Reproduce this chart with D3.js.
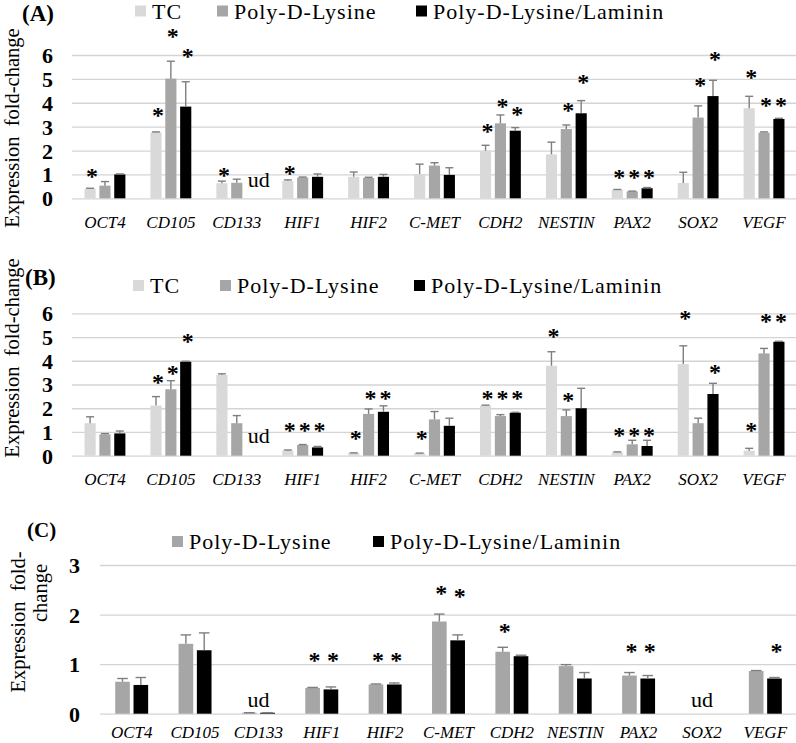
<!DOCTYPE html>
<html><head><meta charset="utf-8">
<script src="https://cdn.jsdelivr.net/npm/d3@7"></script>
<style>
body{margin:0;background:#fff}svg{display:block}
text{font-family:'Liberation Serif','Times New Roman',Times,serif}
</style>
</head><body>
<svg id="chart" width="796" height="743"></svg>
<script>
// ---------------- data ----------------
const categories = ["OCT4","CD105","CD133","HIF1","HIF2","C-MET","CDH2","NESTIN","PAX2","SOX2","VEGF"];
const seriesAB = ["TC","Poly-D-Lysine","Poly-D-Lysine/Laminin"];
const seriesC = ["Poly-D-Lysine","Poly-D-Lysine/Laminin"];

// Panel A
const aTC      = [0.40,2.76,0.63,0.72,0.90,1.02,1.99,1.84,0.35,0.64,3.77];
const aTCErr   = [0.02,0.02,0.09,0.05,0.20,0.41,0.23,0.51,0.02,0.45,0.50];
const aPDL     = [0.53,5.01,0.65,0.87,0.85,1.37,3.14,2.90,0.29,3.38,2.75];
const aPDLErr  = [0.17,0.73,0.15,0.02,0.03,0.12,0.35,0.17,0.01,0.49,0.03];
const aPDLL    = [1.00,3.84,null,0.90,0.90,0.98,2.83,3.56,0.42,4.28,3.32];
const aPDLLErr = [0.02,1.04,null,0.12,0.10,0.30,0.13,0.53,0.03,0.66,0.03];
// stars: [category, series index, level]
const aStars = [["OCT4",0,1.05],["CD105",0,3.63],["CD105",1,6.91],["CD105",2,6.08],["CD133",0,1.10],
  ["HIF1",0,1.18],["CDH2",0,2.93],["CDH2",1,3.98],["CDH2",2,3.66],["NESTIN",1,3.81],["NESTIN",2,5.0],
  ["PAX2",0,1.02],["PAX2",1,1.02],["PAX2",2,1.02],["SOX2",1,4.88],["SOX2",2,5.97],
  ["VEGF",0,5.21],["VEGF",1,4.05],["VEGF",2,4.05]];
const aUd = [["CD133",2]];

// Panel B
const bTC      = [1.37,2.11,3.40,0.21,0.11,0.10,2.11,3.79,0.14,3.86,0.21];
const bTCErr   = [0.27,0.38,0.05,0.03,0.01,0.01,0.02,0.59,0.02,0.77,0.10];
const bPDL     = [0.90,2.80,1.37,0.45,1.76,1.53,1.67,1.67,0.48,1.37,4.31];
const bPDLErr  = [0.03,0.36,0.32,0.02,0.21,0.33,0.06,0.26,0.17,0.21,0.21];
const bPDLL    = [0.94,3.96,null,0.35,1.85,1.26,1.81,2.00,0.41,2.60,4.80];
const bPDLLErr = [0.10,0.02,null,0.04,0.25,0.32,0.02,0.84,0.24,0.45,0.02];
const bStars = [["CD105",0,3.23],["CD105",1,3.61],["CD105",2,4.95],["HIF1",0,1.22],["HIF1",1,1.22],["HIF1",2,1.22],
  ["HIF2",0,0.87],["HIF2",1,2.56],["HIF2",2,2.56],["C-MET",0,0.87],["CDH2",0,2.56],["CDH2",1,2.56],["CDH2",2,2.56],
  ["NESTIN",0,5.16],["NESTIN",1,2.49],["PAX2",0,1.01],["PAX2",1,1.01],["PAX2",2,1.01],
  ["SOX2",0,5.93],["SOX2",2,3.65],["VEGF",0,1.22],["VEGF",1,5.79],["VEGF",2,5.79]];
const bUd = [["CD133",2]];

// Panel C
const cPDL     = [0.645,1.41,0.02,0.52,0.59,1.86,1.25,0.96,0.77,null,0.86];
const cPDLErr  = [0.065,0.18,0.0,0.01,0.01,0.15,0.09,0.03,0.06,null,0.01];
const cPDLL    = [0.58,1.28,0.02,0.49,0.59,1.48,1.16,0.71,0.71,null,0.71];
const cPDLLErr = [0.15,0.35,0.0,0.05,0.03,0.11,0.02,0.12,0.06,null,0.02];
const cStars = [["HIF1",0,1.15],["HIF1",1,1.15],["HIF2",0,1.15],["HIF2",1,1.15],["C-MET",0,2.49],["C-MET",1,2.43],
  ["CDH2",0,1.72],["PAX2",0,1.32],["PAX2",1,1.32],["VEGF",1,1.32]];
const cUd = [["CD133",-1],["SOX2",-1]];

// ---------------- drawing ----------------
const colorsAB = ["#d9d9d9","#a6a6a6","#000000"];
const colorsC = ["#a6a6a6","#000000"];
const svg = d3.select("#chart");

function drawPanel(cfg){
  const g = svg.append("g");
  const x0 = d3.scaleBand().domain(categories).range([cfg.left, cfg.right])
    .paddingInner(cfg.padIn).paddingOuter(cfg.padOut);
  const x1 = d3.scaleBand().domain(d3.range(cfg.series.length)).range([0, x0.bandwidth()])
    .paddingInner(cfg.barPad);
  const y = d3.scaleLinear().domain([0, cfg.ymax]).range([cfg.y0, cfg.ytop]);

  // gridlines + tick labels
  const ax = g.append("g").attr("transform", `translate(${cfg.left},0)`)
    .call(d3.axisLeft(y).ticks(cfg.ymax).tickSize(-(cfg.right - cfg.left)).tickPadding(cfg.tickPad));
  ax.attr("font-family", null).attr("font-size", null);
  ax.select(".domain").remove();
  ax.selectAll(".tick line").attr("stroke", "#d4d4d4").attr("stroke-width", 1.3);
  ax.selectAll(".tick text").style("font-size", cfg.tickFs + "px")
    .style("font-weight", "bold").attr("fill", "#000").attr("dy", "0.34em");

  // category labels
  const xa = g.append("g").attr("transform", `translate(0,${cfg.y0})`)
    .call(d3.axisBottom(x0).tickSize(0).tickPadding(0));
  xa.attr("font-family", null).attr("font-size", null);
  xa.select(".domain").remove();
  xa.selectAll(".tick text").style("font-size", "17px")
    .style("font-style", "italic").attr("fill", "#000").attr("dy", 0).attr("y", cfg.labelDy);

  // bars
  cfg.series.forEach((s, i) => {
    const vals = cfg.values[i], errs = cfg.errors[i];
    const data = categories.map((c, k) => ({c, v: vals[k], e: errs[k]})).filter(d => d.v != null);
    g.append("g").selectAll("rect").data(data).join("rect")
      .attr("x", d => x0(d.c) + x1(i)).attr("width", x1.bandwidth())
      .attr("y", d => y(d.v)).attr("height", d => y(0) - y(d.v))
      .attr("fill", cfg.colors[i]);
    const eg = g.append("g").attr("stroke", "#7f7f7f").attr("stroke-width", 1.4);
    const cx = d => x0(d.c) + x1(i) + x1.bandwidth() / 2;
    const cw = x1.bandwidth() * 0.36;
    eg.selectAll("line.v").data(data).join("line").attr("class", "v")
      .attr("x1", cx).attr("x2", cx).attr("y1", d => y(d.v)).attr("y2", d => y(d.v + d.e));
    eg.selectAll("line.h").data(data).join("line").attr("class", "h")
      .attr("x1", d => cx(d) - cw).attr("x2", d => cx(d) + cw)
      .attr("y1", d => y(d.v + d.e)).attr("y2", d => y(d.v + d.e));
  });

  // significance stars
  g.append("g").selectAll("text").data(cfg.stars).join("text")
    .attr("x", d => x0(d[0]) + x1(d[1]) + x1.bandwidth() / 2 + 2)
    .attr("y", d => y(d[2]) + 11)
    .attr("text-anchor", "middle").style("font-size", "24px")
    .style("font-weight", "bold").text("*");

  // "ud" labels
  g.append("g").selectAll("text").data(cfg.ud).join("text")
    .attr("x", d => d[1] < 0 ? x0(d[0]) + x0.bandwidth() / 2 : x0(d[0]) + x1(d[1]) + x1.bandwidth() / 2 + 7)
    .attr("y", cfg.y0 - cfg.udDy)
    .attr("text-anchor", "middle").style("font-size", "22px").text("ud");

  // legend
  const lg = g.append("g");
  cfg.series.forEach((s, i) => {
    lg.append("rect").attr("x", cfg.legX[i]).attr("y", cfg.legY).attr("width", 11).attr("height", 11)
      .attr("fill", cfg.colors[i]);
    lg.append("text").attr("x", cfg.legX[i] + 17).attr("y", cfg.legY + 13)
      .style("font-size", "22px").style("letter-spacing", "1px").text(s);
  });

  // panel letter
  g.append("text").attr("x", cfg.tagX).attr("y", cfg.tagY)
    .style("font-size", cfg.tagFs + "px").style("font-weight", "bold").text(cfg.tag);

  // y title
  cfg.title.forEach(t => {
    g.append("text").attr("transform", `translate(${t[1]},${t[2]}) rotate(-90)`)
      .attr("text-anchor", "middle").style("font-size", "20.5px")
      .style("white-space", "pre").text(t[0]);
  });
}

drawPanel({
  series: seriesAB, colors: colorsAB,
  values: [aTC, aPDL, aPDLL], errors: [aTCErr, aPDLErr, aPDLLErr],
  stars: aStars, ud: aUd, udDy: 11,
  left: 72, right: 797, padIn: 0.38, padOut: 0.19, barPad: 0.25,
  ymax: 6, y0: 198.3, ytop: 55, tickPad: 19, tickFs: 22, labelDy: 29.5,
  legX: [135, 217, 416], legY: 5.5,
  tag: "(A)", tagX: 22, tagY: 20.5, tagFs: 23,
  title: [["Expression  fold-change", 19, 128]]
});

drawPanel({
  series: seriesAB, colors: colorsAB,
  values: [bTC, bPDL, bPDLL], errors: [bTCErr, bPDLErr, bPDLLErr],
  stars: bStars, ud: bUd, udDy: 13,
  left: 72, right: 797, padIn: 0.38, padOut: 0.19, barPad: 0.25,
  ymax: 6, y0: 455.7, ytop: 313.3, tickPad: 19, tickFs: 22, labelDy: 29.5,
  legX: [133, 220, 414], legY: 280,
  tag: "(B)", tagX: 25, tagY: 285, tagFs: 23,
  title: [["Expression  fold-change", 19, 358]]
});

drawPanel({
  series: seriesC, colors: colorsC,
  values: [cPDL, cPDLL], errors: [cPDLErr, cPDLLErr],
  stars: cStars, ud: cUd, udDy: 6.5,
  left: 100, right: 797, padIn: 0.48, padOut: 0.24, barPad: 0.2,
  ymax: 3, y0: 713.7, ytop: 565, tickPad: 20, tickFs: 22, labelDy: 24.5,
  legX: [172, 373], legY: 536,
  tag: "(C)", tagX: 27, tagY: 537, tagFs: 21,
  title: [["Expression  fold-", 25, 622], ["change", 47, 593]]
});
</script>
</body></html>
